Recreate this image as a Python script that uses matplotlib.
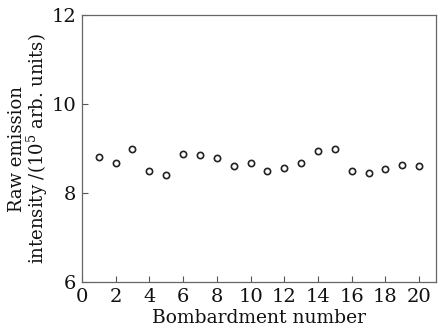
import matplotlib
matplotlib.use("Agg")
import matplotlib.pyplot as plt

bombardment = list(range(1, 21))
intensity = [8.81, 8.67, 9.00, 8.50, 8.41, 8.87, 8.86, 8.79, 8.61, 8.68,
             8.50, 8.57, 8.67, 8.94, 8.99, 8.49, 8.45, 8.54, 8.64, 8.60]
xticks = list(range(0, 21, 2))
yticks = [6, 8, 10, 12]

plt.rcParams['font.family'] = ['DejaVu Serif']
plt.rcParams['mathtext.fontset'] = 'dejavuserif'
fig = plt.figure(figsize=(4.45, 3.36), dpi=100)
ax = fig.add_axes([0.184, 0.16, 0.796, 0.795])
ax.plot(bombardment, intensity, linestyle='none', marker='o', markersize=4.5,
        markerfacecolor='white', markeredgecolor='#222222', markeredgewidth=1.2)
ax.set_xlim(0, 21)
ax.set_ylim(6, 12)
ax.set_xticks(xticks)
ax.set_yticks(yticks)
ax.tick_params(direction='in', length=4, width=0.8, labelsize=14, colors='#555555', labelcolor='#111111')
ax.tick_params(axis='x', pad=4)
ax.tick_params(axis='y', pad=4)
for lab in ax.get_yticklabels():
    lab.set_verticalalignment('center_baseline')
for s in ax.spines.values():
    s.set_color('#666666')
    s.set_linewidth(0.9)
ax.set_xlabel('Bombardment number', fontsize=13.5, labelpad=2, color='#111111')
ax.set_ylabel('Raw emission\nintensity /(10$^{\\mathregular{5}}$ arb. units)', fontsize=13,
              color='#111111', linespacing=0.95, va='center')
ax.yaxis.set_label_coords(-0.15, 0.5)
fig.savefig('out.png', dpi=100)
